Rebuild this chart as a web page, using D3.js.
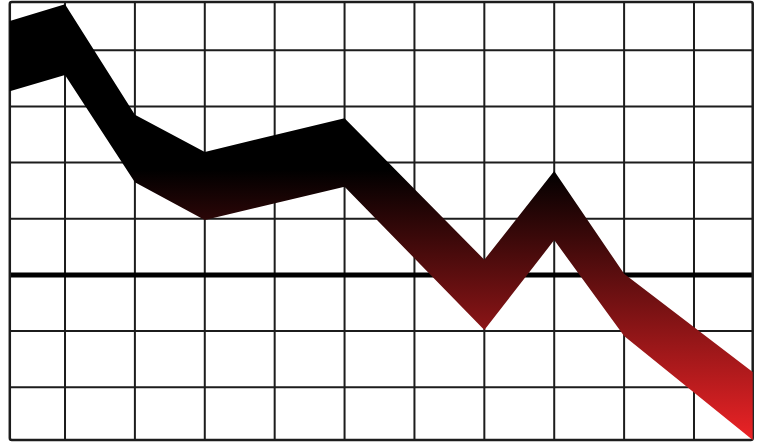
<!DOCTYPE html>
<html>
<head>
<meta charset="utf-8">
<script src="https://cdn.jsdelivr.net/npm/d3@7"></script>
<style>
  html, body { margin: 0; padding: 0; background: #fff; }
  svg { display: block; }
</style>
</head>
<body>
<div></div>
<script>
// positions along the x axis (grid columns are 1..10)
var steps = [0.21, 1, 2, 3, 5, 7, 8, 9, 10.84];
// upper and lower edge of the falling band
var upper = [4.52, 4.82, 2.85, 2.19, 2.79, 0.27, 1.85, 0.02, -1.73];
var lower = [3.27, 3.56, 1.65, 0.98, 1.57, -0.98, 0.62, -1.09, -2.94];
// grid lines
var xTicks = [1, 2, 3, 4, 5, 6, 7, 8, 9, 10];
var yTicks = [4, 3, 2, 1, -1, -2];

var width = 768;
var height = 448;

var x = d3.scaleLinear().domain([0.21, 10.84]).range([9.8, 752.7]);
var y = d3.scaleLinear().domain([-2.94, 4.86]).range([440, 2]);

var svg = d3.select("div").append("svg")
        .attr("width", width)
        .attr("height", height);

var grad = svg.append("defs").append("linearGradient")
        .attr("id", "fall")
        .attr("gradientUnits", "userSpaceOnUse")
        .attr("x1", 0).attr("x2", 0)
        .attr("y1", y(1.87)).attr("y2", y(-2.94));
grad.append("stop").attr("offset", 0).attr("stop-color", "#000000");
grad.append("stop").attr("offset", 1).attr("stop-color", "#ec2326");

// grid
svg.append("g").selectAll("line")
    .data(xTicks).join("line")
    .attr("x1", function(d) { return x(d); })
    .attr("x2", function(d) { return x(d); })
    .attr("y1", y.range()[0]).attr("y2", y.range()[1])
    .attr("stroke", "#1c1c1c")
    .attr("stroke-width", 2);

svg.append("g").selectAll("line")
    .data(yTicks).join("line")
    .attr("x1", x.range()[0]).attr("x2", x.range()[1])
    .attr("y1", function(d) { return y(d); })
    .attr("y2", function(d) { return y(d); })
    .attr("stroke", "#1c1c1c")
    .attr("stroke-width", 2);

// zero line
svg.append("line")
    .attr("x1", x.range()[0]).attr("x2", x.range()[1])
    .attr("y1", y(0)).attr("y2", y(0))
    .attr("stroke", "#000")
    .attr("stroke-width", 5);

// frame
svg.append("rect")
    .attr("x", x.range()[0]).attr("y", y.range()[1])
    .attr("width", x.range()[1] - x.range()[0])
    .attr("height", y.range()[0] - y.range()[1])
    .attr("rx", 2)
    .attr("fill", "none")
    .attr("stroke", "#1c1c1c")
    .attr("stroke-width", 2.5);

// the band
var area = d3.area()
        .x(function(d, i) { return x(steps[i]); })
        .y0(function(d, i) { return y(lower[i]); })
        .y1(function(d, i) { return y(upper[i]); });

svg.append("path")
    .datum(steps)
    .attr("d", area)
    .attr("fill", "url(#fall)");
</script>
</body>
</html>
